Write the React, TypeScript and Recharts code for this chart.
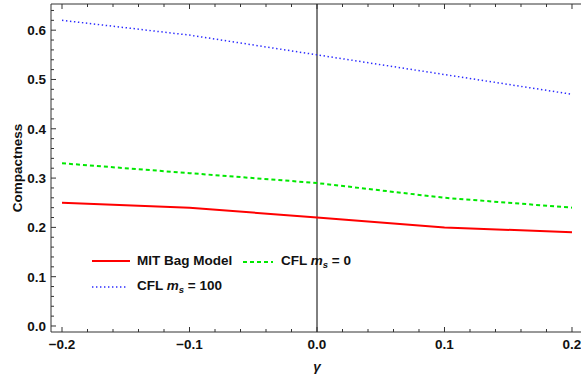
import React from 'react';
import { LineChart, Line, XAxis, YAxis, ReferenceLine } from 'recharts';

// Deformation parameter gamma and compactness for each equation of state
const gammaValues = [-0.2, -0.1, 0.0, 0.1, 0.2];
const mitBagModel = [0.25, 0.24, 0.22, 0.2, 0.19];
const cflMs0 = [0.33, 0.31, 0.29, 0.26, 0.24];
const cflMs100 = [0.62, 0.59, 0.55, 0.51, 0.47];

// Major tick labels
const xMajorTicks = [-0.2, -0.1, 0.0, 0.1, 0.2];
const yMajorTicks = [0.0, 0.1, 0.2, 0.3, 0.4, 0.5, 0.6];

// Minor ticks every 0.02
const xTicks: number[] = [];
for (let i = -10; i <= 10; i++) xTicks.push(Math.round(i * 2) / 100);
const yTicks: number[] = [];
for (let i = 0; i <= 32; i++) yTicks.push(Math.round(i * 2) / 100);

const data = gammaValues.map((g, i) => ({
  gamma: g,
  mit: mitBagModel[i],
  cfl0: cflMs0[i],
  cfl100: cflMs100[i],
}));

const FONT = '"Liberation Sans", Arial, sans-serif';
const FRAME = '#333';
const TICK_FONT = 13.5;

const Sub = () => (
  <>
    <i>m</i>
    <i style={{ fontSize: 9.5, position: 'relative', top: 3 }}>s</i>
  </>
);

const series = [
  { key: 'mit', color: '#ff0000', dash: undefined as string | undefined, width: 2, legendLen: 38, gap: 7, label: <>MIT Bag Model</> },
  { key: 'cfl0', color: '#00e800', dash: '4 3', width: 2, legendLen: 30, gap: 8, label: <>CFL <Sub /> = 0</> },
  { key: 'cfl100', color: '#2a2aff', dash: '1.4 2.6', width: 1.5, legendLen: 36, gap: 9, label: <>CFL <Sub /> = 100</> },
];

const isMajor = (v: number) => Math.abs(v * 10 - Math.round(v * 10)) < 1e-6;
const fmt = (v: number) => (v < 0 ? '\u2212' + Math.abs(v).toFixed(1) : v.toFixed(1));

const makeTick = (side: 'bottom' | 'top' | 'left' | 'right', labels: boolean, majors: number[]) =>
  (props: any) => {
    const { x, y, payload } = props;
    const v = payload.value as number;
    const major = isMajor(v);
    const len = major ? 5 : 3;
    const showLabel = labels && majors.some((m) => Math.abs(m - v) < 1e-6);
    let line;
    if (side === 'bottom') line = <line x1={x} y1={y} x2={x} y2={y - len} stroke={FRAME} />;
    else if (side === 'top') line = <line x1={x} y1={y} x2={x} y2={y + len} stroke={FRAME} />;
    else if (side === 'left') line = <line x1={x} y1={y} x2={x + len} y2={y} stroke={FRAME} />;
    else line = <line x1={x} y1={y} x2={x - len} y2={y} stroke={FRAME} />;
    return (
      <g>
        {line}
        {showLabel && side === 'bottom' && (
          <text x={x} y={y + 17} textAnchor="middle" fontFamily={FONT} fontWeight="bold" fontSize={TICK_FONT} fill="#111">
            {fmt(v)}
          </text>
        )}
        {showLabel && side === 'left' && (
          <text x={x - 5} y={y + 5} textAnchor="end" fontFamily={FONT} fontWeight="bold" fontSize={TICK_FONT} fill="#111">
            {fmt(v)}
          </text>
        )}
      </g>
    );
  };

const LegendLine = ({ color, dash, width, len }: { color: string; dash?: string; width: number; len: number }) => (
  <svg width={len} height={8} style={{ display: 'block' }}>
    <line x1={0} y1={4} x2={len} y2={4} stroke={color} strokeWidth={width} strokeDasharray={dash} />
  </svg>
);

export default function App() {
  const legendPos = [
    { left: 92, top: 254 },
    { left: 243, top: 254 },
    { left: 92, top: 279 },
  ];
  return (
    <div style={{ position: 'absolute', left: 0, top: 0, width: 581, height: 375, background: '#fff' }}>
      <LineChart width={581} height={375} data={data} margin={{ top: 0, right: 0, bottom: 0, left: 0 }}>
        <XAxis
          xAxisId="bottom"
          dataKey="gamma"
          type="number"
          orientation="bottom"
          domain={[-0.20863, 0.20706]}
          ticks={xTicks}
          interval={0}
          height={43}
          tickSize={0}
          tickMargin={0}
          tickLine={false}
          axisLine={{ stroke: FRAME }}
          tick={makeTick('bottom', true, xMajorTicks)}
          allowDataOverflow
        />
        <XAxis
          xAxisId="top"
          dataKey="gamma"
          type="number"
          orientation="top"
          domain={[-0.20863, 0.20706]}
          ticks={xTicks}
          interval={0}
          height={4}
          tickSize={0}
          tickMargin={0}
          tickLine={false}
          axisLine={{ stroke: FRAME }}
          tick={makeTick('top', false, xMajorTicks)}
          allowDataOverflow
        />
        <YAxis
          yAxisId="left"
          type="number"
          orientation="left"
          domain={[-0.0122, 0.6531]}
          ticks={yTicks}
          interval={0}
          width={51}
          tickSize={0}
          tickMargin={0}
          tickLine={false}
          axisLine={{ stroke: FRAME }}
          tick={makeTick('left', true, yMajorTicks)}
          allowDataOverflow
        />
        <YAxis
          yAxisId="right"
          type="number"
          orientation="right"
          domain={[-0.0122, 0.6531]}
          ticks={yTicks}
          interval={0}
          width={0}
          tickSize={0}
          tickMargin={0}
          tickLine={false}
          axisLine={{ stroke: FRAME }}
          tick={makeTick('right', false, yMajorTicks)}
          allowDataOverflow
        />
        <ReferenceLine xAxisId="bottom" yAxisId="left" x={0} stroke="#000" strokeWidth={1} />
        {series.map((s) => (
          <Line
            key={s.key}
            xAxisId="bottom"
            yAxisId="left"
            type="linear"
            dataKey={s.key}
            stroke={s.color}
            strokeWidth={s.width}
            strokeDasharray={s.dash}
            dot={false}
            activeDot={false}
            isAnimationActive={false}
          />
        ))}
      </LineChart>
      {/* axis titles */}
      <div
        style={{
          position: 'absolute', left: 17, top: 168, transform: 'translate(-50%, -50%) rotate(-90deg)',
          fontFamily: FONT, fontWeight: 'bold', fontSize: 13.5, color: '#111', whiteSpace: 'nowrap',
        }}
      >
        Compactness
      </div>
      <div
        style={{
          position: 'absolute', left: 317, top: 366, transform: 'translate(-50%, -50%)',
          fontFamily: FONT, fontWeight: 'bold', fontStyle: 'italic', fontSize: 13.5, color: '#111',
        }}
      >
        γ
      </div>
      {/* legend */}
      {series.map((s, i) => (
        <div
          key={s.key}
          style={{
            position: 'absolute', left: legendPos[i].left, top: legendPos[i].top, display: 'flex',
            alignItems: 'center', fontFamily: FONT, fontWeight: 'bold', fontSize: 13.5, color: '#111',
            whiteSpace: 'nowrap', lineHeight: '14px',
          }}
        >
          <LegendLine color={s.color} dash={s.dash} width={s.width} len={s.legendLen} />
          <span style={{ marginLeft: s.gap }}>{s.label}</span>
        </div>
      ))}
    </div>
  );
}
